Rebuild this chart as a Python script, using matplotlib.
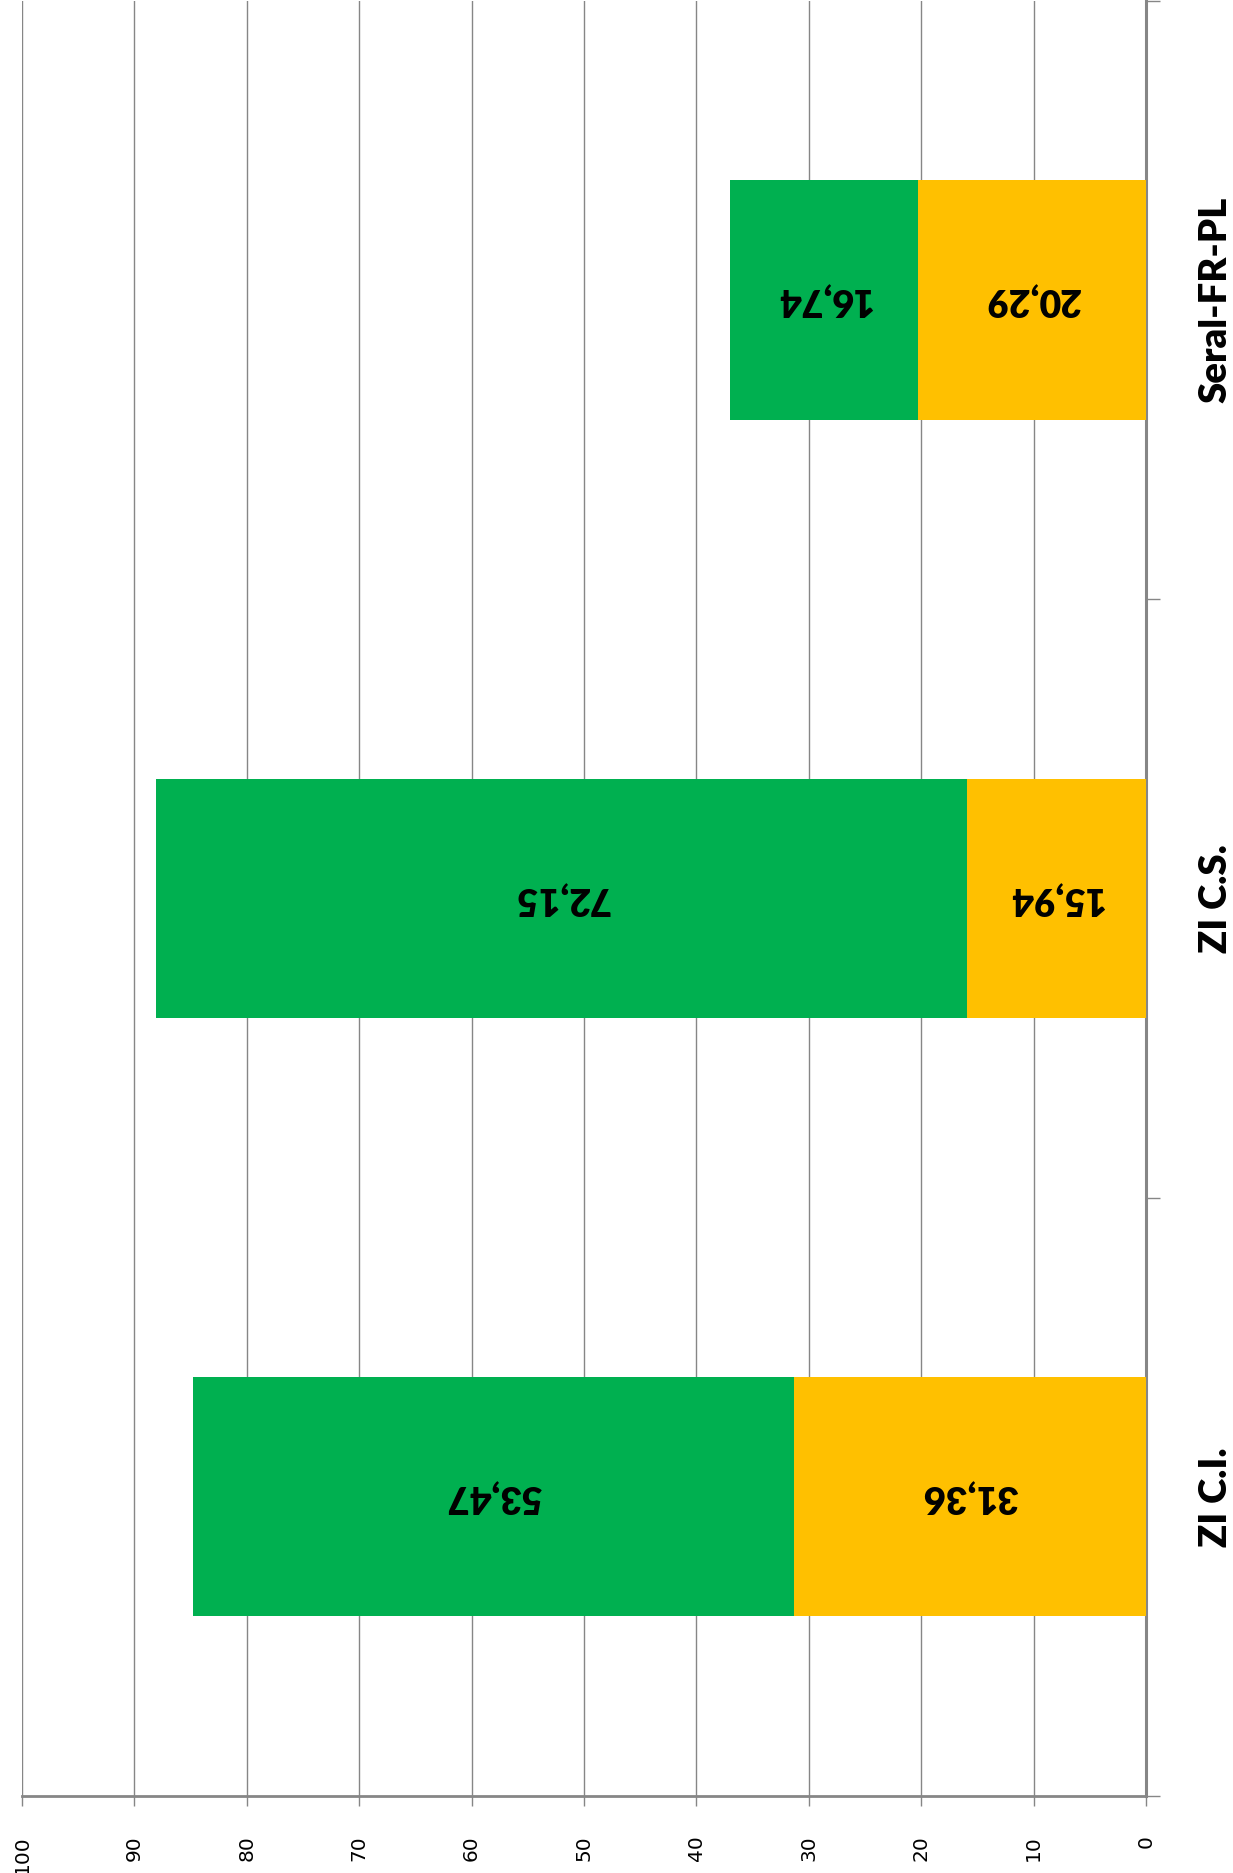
import numpy as np
import matplotlib
matplotlib.use('Agg')
import matplotlib.pyplot as plt

# data
categories = ['ZI C.I.', 'ZI C.S.', 'Seral-FR-PL']
yellow_vals = [31.36, 15.94, 20.29]
green_vals = [53.47, 72.15, 16.74]
value_ticks = list(range(0, 101, 10))

YELLOW = '#FFC000'
GREEN = '#00B050'
GRAY = '#868686'

fig = plt.figure(figsize=(12.33, 18.73), dpi=100)
ax = fig.add_axes([22 / 1233, 1 - 1796 / 1873, (1146 - 22) / 1233, 1796 / 1873 - 0.0005])

y = np.arange(len(categories))
ax.barh(y, yellow_vals, height=0.4, color=YELLOW, zorder=3)
ax.barh(y, green_vals, left=yellow_vals, height=0.4, color=GREEN, zorder=3)

# data labels, upside down like the source
for i in range(len(categories)):
    ax.text(yellow_vals[i] / 2, y[i], f"{yellow_vals[i]:.2f}".replace('.', ','),
            rotation=180, ha='center', va='center', fontsize=27,
            fontweight='heavy', family='Lato', zorder=4)
    ax.text(yellow_vals[i] + green_vals[i] / 2, y[i], f"{green_vals[i]:.2f}".replace('.', ','),
            rotation=180, ha='center', va='center', fontsize=27,
            fontweight='heavy', family='Lato', zorder=4)

ax.set_xlim(100, 0)
ax.set_ylim(-0.5, len(categories) - 0.5)

# value axis (bottom)
ax.set_xticks(value_ticks)
ax.set_xticklabels([str(v) for v in value_ticks], rotation=90, fontsize=14.5)
ax.tick_params(axis='x', direction='out', length=7, width=1, color=GRAY, pad=21)
ax.grid(axis='x', color=GRAY, linewidth=1.0, zorder=0)

# category axis (right)
ax.yaxis.tick_right()
ax.set_yticks(y)
ax.set_yticklabels(categories, rotation=90, fontsize=27.5, fontweight='heavy', family='Lato',
                   va='center', ha='left')
ax.set_yticks(np.arange(-0.5, len(categories), 1.0), minor=True)
ax.tick_params(axis='y', which='major', length=0, pad=38)
ax.tick_params(axis='y', which='minor', length=10, width=1, color=GRAY, direction='out')

for s in ['left', 'top']:
    ax.spines[s].set_visible(False)
ax.spines['bottom'].set_color(GRAY)
ax.spines['bottom'].set_linewidth(2)
ax.spines['right'].set_color(GRAY)
ax.spines['right'].set_linewidth(2.2)

fig.savefig('out.png', dpi=100)
